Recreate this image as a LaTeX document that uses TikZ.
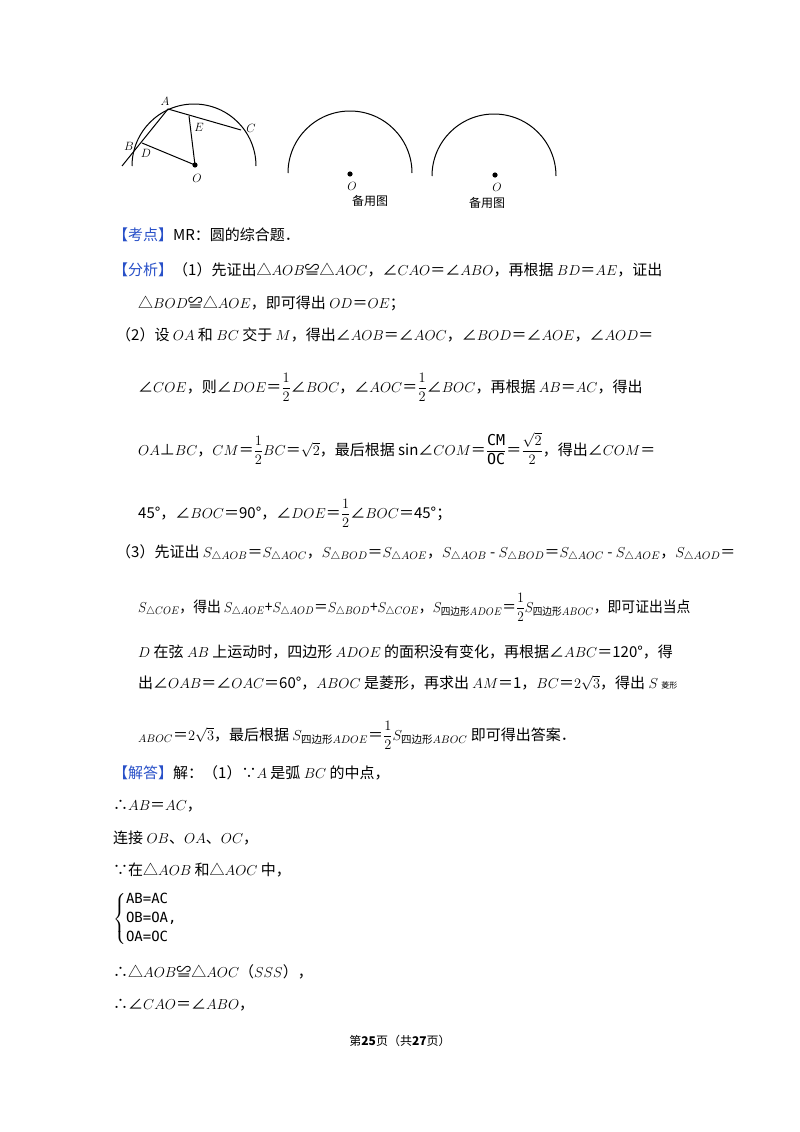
\documentclass[tikz,border=0pt]{standalone}
\usepackage{amsmath}
\usepackage{graphicx}
\usepackage{fontspec}
\setmainfont{Noto Sans CJK SC}
\setmonofont{DejaVu Sans Mono}
\begin{document}
\begin{tikzpicture}[x=1pt,y=-1pt,
  t/.style={anchor=base west,inner sep=0pt,font=\fontsize{15}{18}\selectfont},
  lab/.style={inner sep=0pt,font=\fontsize{12}{13}\selectfont},
  arcline/.style={line width=1pt,black}]
\useasboundingbox (0,0) rectangle (800,1132);
\fill[white] (0,0) rectangle (800,1132);
\definecolor{kb}{RGB}{40,80,200}
\newcommand{\bl}[1]{\textcolor{kb}{#1}}
% figure 1
\coordinate (O1) at (195,165);
\coordinate (A) at (168,109);
\coordinate (C) at (241,130);
\coordinate (D) at (142,143);
\coordinate (E) at (189,116);
\coordinate (L1) at (122,166);
\draw[arcline] (132,166) arc[start angle=180,end angle=360,radius=62];
\draw[arcline] (L1) -- (A) -- (C);
\draw[arcline] (D) -- (O1) -- (E);
\fill (O1) circle (2.6);
\node[lab] (la) at (165,101) {$A$};
\node[lab] (lb) at (129,146) {$B$};
\node[lab] (lc) at (251,128) {$C$};
\node[lab] (ld) at (146,153) {$D$};
\node[lab] (le) at (199,127) {$E$};
\node[lab] (lo) at (197,178) {$O$};
% figure 2
\coordinate (O2) at (350,174);
\draw[arcline] (288,173) arc[start angle=180,end angle=360,radius=62];
\fill (O2) circle (2.6);
\node[lab] (lo2) at (352,186) {$O$};
\node[inner sep=0pt,font=\fontsize{12}{14}\selectfont] (b2) at (370,201) {备用图};
% figure 3
\coordinate (O3) at (495,175);
\draw[arcline] (432,176) arc[start angle=180,end angle=360,radius=62];
\fill (O3) circle (2.6);
\node[lab] (lo3) at (497,187) {$O$};
\node[inner sep=0pt,font=\fontsize{12}{14}\selectfont] (b3) at (487,203) {备用图};
% text
\node[t] (l1) at (113,240) {\bl{【考点】}MR：圆的综合题．};
\node[t] (l2) at (113,275) {\bl{【分析】}（1）先证出△$AOB$≌△$AOC$，∠$CAO$＝∠$ABO$，再根据 $BD$＝$AE$，证出};
\node[t] (l3) at (138,308) {△$BOD$≌△$AOE$，即可得出 $OD$＝$OE$；};
\node[t] (l4) at (116,340) {（2）设 $OA$ 和 $BC$ 交于 $M$，得出∠$AOB$＝∠$AOC$，∠$BOD$＝∠$AOE$，∠$AOD$＝};
\node[t] (l5) at (138,392) {∠$COE$，则∠$DOE$＝$\dfrac{1}{2}$∠$BOC$，∠$AOC$＝$\dfrac{1}{2}$∠$BOC$，再根据 $AB$＝$AC$，得出};
\node[t] (l6) at (138,455) {$OA$⊥$BC$，$CM$＝$\dfrac{1}{2}BC$＝$\sqrt{2}$，最后根据 sin∠$COM$＝$\dfrac{\texttt{CM}}{\texttt{OC}}$＝$\dfrac{\sqrt{2}}{2}$，得出∠$COM$＝};
\node[t] (l7) at (138,518) {45°，∠$BOC$＝90°，∠$DOE$＝$\dfrac{1}{2}$∠$BOC$＝45°；};
\node[t] (l8) at (116,557) {（3）先证出 $S_{\triangle AOB}$＝$S_{\triangle AOC}$，$S_{\triangle BOD}$＝$S_{\triangle AOE}$，$S_{\triangle AOB}$ - $S_{\triangle BOD}$＝$S_{\triangle AOC}$ - $S_{\triangle AOE}$，$S_{\triangle AOD}$＝};
\node[t] (l9) at (138,612) {\scalebox{0.92}[1]{$S_{\triangle COE}$，得出 $S_{\triangle AOE}$+$S_{\triangle AOD}$＝$S_{\triangle BOD}$+$S_{\triangle COE}$，$S_{\text{四边形}ADOE}$＝$\dfrac{1}{2}S_{\text{四边形}ABOC}$，即可证出当点}};
\node[t] (l10) at (138,657) {$D$ 在弦 $AB$ 上运动时，四边形 $ADOE$ 的面积没有变化，再根据∠$ABC$＝120°，得};
\node[t] (l11) at (138,688) {出∠$OAB$＝∠$OAC$＝60°，$ABOC$ 是菱形，再求出 $AM$＝1，$BC$＝$2\sqrt{3}$，得出 $S$ {\fontsize{8}{9}\selectfont 菱形}};
\node[t] (l12) at (138,740) {$_{ABOC}$＝$2\sqrt{3}$，最后根据 $S_{\text{四边形}ADOE}$＝$\dfrac{1}{2}S_{\text{四边形}ABOC}$ 即可得出答案．};
\node[t] (l13) at (113,778) {\bl{【解答】}解：（1）∵$A$ 是弧 $BC$ 的中点，};
\node[t] (l14) at (113,810) {∴$AB$＝$AC$，};
\node[t] (l15) at (113,843) {连接 $OB$、$OA$、$OC$，};
\node[t] (l16) at (113,875) {∵在△$AOB$ 和△$AOC$ 中，};
\node[anchor=west,inner sep=0pt,font=\fontsize{14}{16}\selectfont] (sys) at (113,919) {$\left\{\begin{array}{@{}l@{}}\texttt{AB=AC}\\[3pt]\texttt{OB=OA,}\\[3pt]\texttt{OA=OC}\end{array}\right.$};
\node[t] (l17) at (113,977) {∴△$AOB$≌△$AOC$（$SSS$），};
\node[t] (l18) at (113,1009) {∴∠$CAO$＝∠$ABO$，};
\node[inner sep=0pt,font=\fontsize{12}{14}\selectfont] (foot) at (400,1041) {第\textbf{25}页（共\textbf{27}页）};
\end{tikzpicture}
\end{document}
